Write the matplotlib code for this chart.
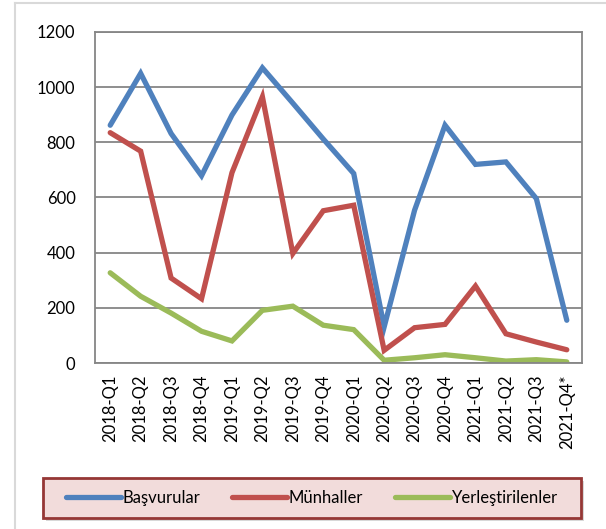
import matplotlib
matplotlib.use("Agg")
import matplotlib.pyplot as plt
from matplotlib.lines import Line2D
from matplotlib.patches import Rectangle

plt.rcParams['font.family'] = ['Lato', 'DejaVu Sans']

categories = ["2018-Q1", "2018-Q2", "2018-Q3", "2018-Q4",
              "2019-Q1", "2019-Q2", "2019-Q3", "2019-Q4",
              "2020-Q1", "2020-Q2", "2020-Q3", "2020-Q4",
              "2021-Q1", "2021-Q2", "2021-Q3", "2021-Q4*"]
basvurular = [862, 1050, 832, 679, 899, 1070, 942, 812, 687, 131, 554, 862, 720, 729, 596, 155]
munhaller = [835, 768, 308, 233, 690, 965, 397, 552, 572, 46, 128, 140, 279, 106, 76, 48]
yerlestirilenler = [327, 242, 181, 115, 80, 191, 206, 137, 121, 10, 19, 30, 19, 7, 12, 4]

W, H = 606, 529
fig = plt.figure(figsize=(W / 100, H / 100), dpi=100)

# chart-area border (left and top visible)
fig.add_artist(Line2D([15 / W, 15 / W], [0, 1 - 3 / H], transform=fig.transFigure, color="#d9d9d9", lw=1.5))
fig.add_artist(Line2D([15 / W, 1], [1 - 3 / H, 1 - 3 / H], transform=fig.transFigure, color="#d9d9d9", lw=1.5))

ax = fig.add_axes([95 / W, (H - 363) / H, 487 / W, 331 / H])
x = list(range(len(categories)))
lw = 3.8
ax.plot(x, basvurular, color="#4f81bd", lw=lw, label="Başvurular", solid_capstyle="round", solid_joinstyle="miter")
ax.plot(x, munhaller, color="#c0504d", lw=lw, label="Münhaller", solid_capstyle="round", solid_joinstyle="miter")
ax.plot(x, yerlestirilenler, color="#9bbb59", lw=lw, label="Yerleştirilenler", solid_capstyle="round", solid_joinstyle="miter")

ax.set_xlim(-0.5, len(categories) - 0.5)
ax.set_ylim(0, 1200)
ax.set_yticks(range(0, 1201, 200))
ax.set_xticks(x)
ax.set_xticklabels(categories, rotation=90, fontsize=12)
ax.tick_params(axis="y", labelsize=12, length=0, pad=14)
ax.tick_params(axis="x", length=0, pad=8)
ax.grid(axis="y", color="#868686", lw=1.3)
ax.set_axisbelow(True)
for s in ax.spines.values():
    s.set_color("#868686")
    s.set_linewidth(1.3)

# legend box with shadow
lx0, ly0, lw_, lh_ = 43 / W, (H - 518) / H, 538 / W, 40 / H
shadow = Rectangle((lx0 + 3 / W, ly0 - 3 / H), lw_, lh_, transform=fig.transFigure,
                   facecolor="#bfbfbf", edgecolor="none", alpha=0.6)
box = Rectangle((lx0, ly0), lw_, lh_, transform=fig.transFigure,
                facecolor="#f2dcdb", edgecolor="#953735", lw=2)
fig.add_artist(shadow)
fig.add_artist(box)

leg = fig.legend(loc="center", ncol=3,
                 bbox_to_anchor=(lx0 + lw_ / 2, ly0 + lh_ / 2),
                 fontsize=12, frameon=False, handlelength=3.3,
                 handletextpad=0.1, columnspacing=1.9, borderaxespad=0)
leg.set_zorder(5)
for lh in leg.get_lines():
    lh.set_linewidth(3.8)
    lh.set_solid_capstyle("round")

fig.savefig("out.png", dpi=100)
